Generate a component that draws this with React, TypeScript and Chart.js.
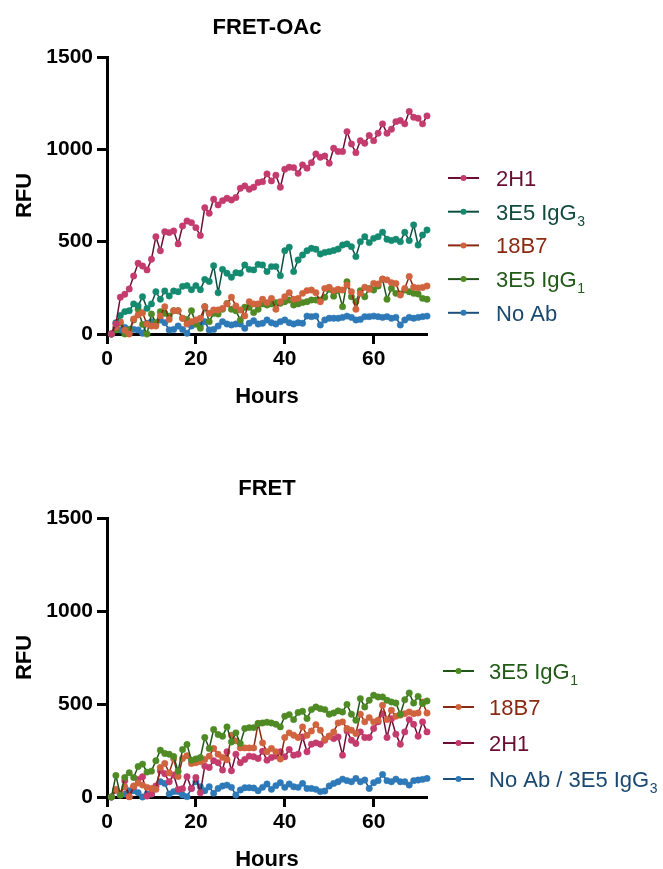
import React, { useEffect, useRef } from "react";
import { Chart, registerables } from "chart.js";

Chart.register(...registerables);

const FONT = '"Liberation Sans", Arial, Helvetica, sans-serif';

// ---------- shared axes ----------
const hours = [
  1, 2, 3, 4, 5, 6, 7, 8, 9, 10, 11, 12, 13, 14, 15, 16, 17, 18, 19, 20,
  21, 22, 23, 24, 25, 26, 27, 28, 29, 30, 31, 32, 33, 34, 35, 36, 37, 38, 39, 40,
  41, 42, 43, 44, 45, 46, 47, 48, 49, 50, 51, 52, 53, 54, 55, 56, 57, 58, 59, 60,
  61, 62, 63, 64, 65, 66, 67, 68, 69, 70, 71, 72,
];
const xTickValues = [0, 20, 40, 60];
const yTickValues = [0, 500, 1000, 1500];
const xMax = 72;
const yMax = 1500;

// ---------- FRET-OAc (top) ----------
const top2H1 = [
  0, 54, 199, 215, 244, 314, 383, 368, 347, 405, 527, 451, 554, 549, 558, 488, 585, 612, 603, 576,
  533, 684, 654, 730, 699, 722, 735, 726, 739, 789, 802, 784, 795, 820, 825, 867, 829, 860, 795, 892,
  903, 901, 870, 916, 898, 928, 975, 957, 964, 925, 1006, 988, 988, 1096, 1029, 982, 1047, 1033, 1075, 1047,
  1087, 1138, 1087, 1109, 1150, 1156, 1138, 1205, 1174, 1168, 1138, 1181,
];
const top3E5IgG3 = [
  0, 61, 100, 121, 126, 163, 152, 202, 139, 163, 229, 188, 233, 206, 233, 229, 258, 262, 240, 262,
  240, 296, 284, 370, 224, 350, 329, 307, 332, 329, 374, 350, 347, 377, 374, 338, 365, 365, 316, 451,
  470, 338, 401, 428, 451, 464, 459, 433, 442, 446, 452, 460, 482, 488, 473, 419, 500, 527, 495, 518,
  527, 551, 513, 506, 513, 500, 551, 506, 591, 482, 536, 563,
];
const top18B7 = [
  0, 36, 67, 20, 0, 81, 103, 115, 54, 43, 43, 98, 148, 79, 126, 126, 85, 54, 67, 76,
  85, 148, 112, 130, 130, 139, 163, 199, 152, 130, 98, 175, 163, 163, 188, 170, 193, 134, 175, 202,
  224, 188, 193, 220, 235, 238, 224, 175, 247, 253, 235, 242, 238, 265, 229, 134, 220, 253, 242, 274,
  271, 298, 293, 278, 274, 211, 247, 311, 253, 250, 252, 260,
];
const top3E5IgG1 = [
  0, 22, 61, 0, 22, 76, 134, 52, 0, 108, 61, 121, 112, 97, 126, 126, 85, 79, 126, 54,
  31, 148, 67, 112, 108, 134, 166, 134, 126, 76, 145, 145, 116, 134, 163, 157, 163, 170, 166, 175,
  184, 157, 163, 170, 175, 184, 184, 184, 199, 242, 205, 235, 148, 283, 202, 175, 235, 202, 247, 238,
  260, 296, 188, 247, 220, 217, 238, 229, 220, 217, 193, 188,
];
const topNoAb = [
  0, 34, 22, 36, 25, 25, 22, 4, 58, 67, 54, 76, 61, 22, 25, 43, 25, 4, 43, 54,
  49, 67, 22, 25, 43, 67, 54, 49, 54, 54, 31, 58, 72, 54, 58, 76, 61, 54, 67, 76,
  61, 54, 61, 58, 97, 94, 97, 49, 76, 85, 85, 85, 90, 97, 90, 76, 79, 94, 94, 97,
  94, 90, 94, 85, 90, 49, 76, 90, 85, 90, 94, 97,
];

// ---------- FRET (bottom) ----------
const bot3E5IgG1 = [
  0, 116, 10, 105, 130, 105, 164, 177, 134, 139, 195, 252, 234, 230, 218, 139, 255, 282, 198, 205,
  212, 320, 261, 363, 336, 327, 377, 296, 345, 288, 368, 373, 373, 395, 398, 402, 398, 391, 377, 434,
  443, 416, 454, 461, 422, 470, 484, 475, 470, 445, 452, 463, 457, 498, 445, 413, 529, 484, 520, 547,
  538, 538, 520, 511, 505, 445, 523, 559, 505, 541, 502, 516,
];
const bot18B7 = [
  0, 41, 20, 55, 2, 59, 75, 64, 52, 46, 41, 159, 180, 130, 205, 110, 207, 222, 180, 184,
  190, 202, 220, 261, 230, 213, 200, 332, 302, 264, 264, 264, 264, 395, 291, 243, 261, 243, 204, 320,
  345, 332, 320, 377, 332, 355, 389, 359, 309, 327, 350, 398, 404, 368, 359, 341, 445, 404, 427, 404,
  413, 493, 416, 466, 434, 440, 448, 457, 448, 452, 511, 452,
];
const bot2H1 = [
  0, 37, 16, 87, 2, 55, 95, 109, 5, 16, 60, 141, 125, 82, 118, 41, 45, 109, 46, 105,
  23, 166, 159, 195, 184, 145, 243, 141, 230, 184, 202, 220, 216, 207, 246, 198, 212, 220, 243, 216,
  255, 225, 230, 323, 243, 284, 291, 284, 305, 327, 314, 323, 225, 355, 305, 288, 350, 320, 320, 368,
  404, 448, 320, 421, 338, 284, 350, 416, 391, 327, 404, 350,
];
const botNoAb = [
  0, 38, 11, 16, 34, 34, 23, 0, 16, 16, 55, 82, 73, 16, 29, 29, 11, 2, 46, 82,
  55, 34, 55, 20, 46, 59, 64, 52, 11, 38, 50, 50, 48, 34, 52, 70, 41, 61, 77, 52,
  70, 55, 52, 73, 46, 46, 41, 29, 32, 59, 73, 82, 96, 88, 82, 100, 82, 91, 46, 77,
  88, 121, 88, 82, 96, 82, 82, 64, 88, 91, 95, 100,
];

// ---------- styles ----------
const STYLE = {
  h2H1: { point: "#C43B6D", line: "#6C0E34", text: "#6A0E31" },
  igg3: { point: "#148A70", line: "#0C4F40", text: "#0F4C3C" },
  b18B7: { point: "#D0643F", line: "#8A2913", text: "#8A2A10" },
  igg1: { point: "#4F8A25", line: "#1F5517", text: "#205A16" },
  noAb: { point: "#2E79B7", line: "#1C4F7C", text: "#1A4870" },
};

type Series = { name: string; values: number[]; style: { point: string; line: string; text: string } };

const topSeries: Series[] = [
  { name: "2H1", values: top2H1, style: STYLE.h2H1 },
  { name: "3E5 IgG_3", values: top3E5IgG3, style: STYLE.igg3 },
  { name: "18B7", values: top18B7, style: STYLE.b18B7 },
  { name: "3E5 IgG_1", values: top3E5IgG1, style: STYLE.igg1 },
  { name: "No Ab", values: topNoAb, style: STYLE.noAb },
];
const bottomSeries: Series[] = [
  { name: "3E5 IgG_1", values: bot3E5IgG1, style: STYLE.igg1 },
  { name: "18B7", values: bot18B7, style: STYLE.b18B7 },
  { name: "2H1", values: bot2H1, style: STYLE.h2H1 },
  { name: "No Ab / 3E5 IgG_3", values: botNoAb, style: STYLE.noAb },
];

const decorPlugin = {
  id: "decor",
  afterDraw(chart: any, _args: any, opts: any) {
    const { ctx, chartArea: ca } = chart;
    ctx.save();
    ctx.fillStyle = "#000";
    ctx.textAlign = "center";
    ctx.textBaseline = "alphabetic";
    ctx.font = `bold 22px ${FONT}`;
    const cx = (ca.left + ca.right) / 2;
    ctx.fillText(opts.title, cx, opts.titleY);
    ctx.fillText("Hours", cx, opts.xTitleY);
    ctx.save();
    ctx.translate(opts.yTitleX, (ca.top + ca.bottom) / 2);
    ctx.rotate(-Math.PI / 2);
    ctx.fillText("RFU", 0, 8);
    ctx.restore();

    const texts: string[] = opts.textColors;
    chart.data.datasets.forEach((ds: any, i: number) => {
      const y = opts.legendY + i * opts.legendStep;
      ctx.strokeStyle = ds.borderColor;
      ctx.lineWidth = 2;
      ctx.beginPath();
      ctx.moveTo(opts.legendX, y);
      ctx.lineTo(opts.legendX + 31, y);
      ctx.stroke();
      ctx.fillStyle = ds.pointBackgroundColor;
      ctx.beginPath();
      ctx.arc(opts.legendX + 15.5, y, 3, 0, Math.PI * 2);
      ctx.fill();
      const parts = String(ds.label).split("_");
      ctx.fillStyle = texts[i];
      ctx.textAlign = "left";
      ctx.font = `22px ${FONT}`;
      ctx.fillText(parts[0], opts.textX, y + 8);
      if (parts[1]) {
        const w = ctx.measureText(parts[0]).width;
        ctx.font = `14px ${FONT}`;
        ctx.fillText(parts[1], opts.textX + w + 0.5, y + 14);
      }
    });
    ctx.restore();
  },
};

function buildConfig(series: Series[], p: any): any {
  const tickFont = { family: FONT, size: 21, weight: "bold" };
  const gridOpts = {
    display: true,
    drawOnChartArea: false,
    drawTicks: true,
    tickLength: 10,
    tickWidth: 3,
    tickColor: "#000",
  };
  return {
    type: "line",
    data: {
      datasets: series.map((s) => ({
        label: s.name,
        data: hours.map((h, i) => ({ x: h, y: s.values[i] })),
        borderColor: s.style.line,
        backgroundColor: s.style.point,
        pointBackgroundColor: s.style.point,
        pointBorderColor: s.style.point,
        pointBorderWidth: 0.5,
        pointRadius: 3.2,
        pointHoverRadius: 3.2,
        borderWidth: 1.5,
        tension: 0,
        fill: false,
        clip: false,
      })),
    },
    options: {
      responsive: false,
      animation: false,
      events: [],
      layout: { padding: { left: 0, top: p.areaTop, right: 663 - 427, bottom: 0 } },
      plugins: {
        legend: { display: false },
        title: { display: false },
        tooltip: { enabled: false },
        decor: {
          title: p.title,
          titleY: p.titleY,
          xTitleY: p.xTitleY,
          yTitleX: 23,
          legendX: p.legendX,
          textX: p.textX,
          legendY: p.legendY,
          legendStep: p.legendStep,
          textColors: series.map((s) => s.style.text),
        },
      },
      scales: {
        x: {
          type: "linear",
          min: 0,
          max: xMax,
          border: { display: true, color: "#000", width: 3 },
          grid: gridOpts,
          ticks: {
            color: "#000",
            padding: 3,
            maxRotation: 0,
            font: tickFont,
            callback: (v: number) => String(v),
          },
          afterBuildTicks: (s: any) => {
            s.ticks = xTickValues.map((v) => ({ value: v }));
          },
          afterFit: (s: any) => {
            s.height = p.xAxisHeight;
          },
        },
        y: {
          type: "linear",
          min: 0,
          max: yMax,
          border: { display: true, color: "#000", width: 3 },
          grid: gridOpts,
          ticks: {
            color: "#000",
            padding: 4,
            font: tickFont,
            callback: (v: number) => String(v),
          },
          afterBuildTicks: (s: any) => {
            s.ticks = yTickValues.map((v) => ({ value: v }));
          },
          afterFit: (s: any) => {
            s.width = 107;
          },
        },
      },
    },
    plugins: [decorPlugin],
  };
}

function ChartPanel({ series, params, top, height }: { series: Series[]; params: any; top: number; height: number }) {
  const ref = useRef<HTMLCanvasElement | null>(null);
  useEffect(() => {
    if (!ref.current) return;
    const chart = new Chart(ref.current, buildConfig(series, params));
    return () => chart.destroy();
  }, []);
  return (
    <canvas
      ref={ref}
      width={663}
      height={height}
      style={{ position: "absolute", left: 0, top, width: 663, height }}
    />
  );
}

const topParams = {
  title: "FRET-OAc",
  areaTop: 57,
  xAxisHeight: 100,
  titleY: 34,
  xTitleY: 403,
  legendX: 448,
  textX: 496,
  legendY: 178,
  legendStep: 33.7,
};
const bottomParams = {
  title: "FRET",
  areaTop: 84,
  xAxisHeight: 72,
  titleY: 61,
  xTitleY: 432,
  legendX: 443,
  textX: 489,
  legendY: 237,
  legendStep: 36,
};

export default function App() {
  return (
    <div style={{ position: "absolute", left: 0, top: 0, width: 663, height: 869, background: "#fff", overflow: "hidden" }}>
      <ChartPanel series={topSeries} params={topParams} top={0} height={434} />
      <ChartPanel series={bottomSeries} params={bottomParams} top={434} height={435} />
    </div>
  );
}
